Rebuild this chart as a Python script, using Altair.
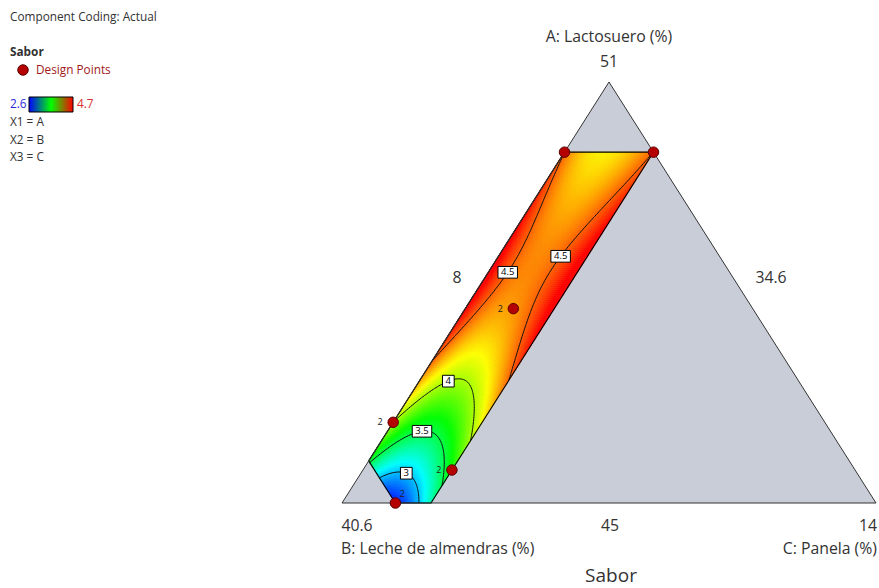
import numpy as np
import pandas as pd
import altair as alt

# ---------------- mixture definition (actual %, total = 93.6) ----------------
TOTAL = 93.6
A_LOW, B_LOW, C_LOW = 45.0, 34.6, 8.0          # simplex lows
A_MAX, B_MAX, C_MAX = 50.0, 40.0, 9.0          # constraints of the design region
SPAN = TOTAL - A_LOW - B_LOW - C_LOW           # 6.0
A_HIGH, B_HIGH, C_HIGH = A_LOW + SPAN, B_LOW + SPAN, C_LOW + SPAN   # simplex vertices

# ---------------- design points ----------------
design_A = [50.0, 50.0, 47.77, 46.15, 45.47, 45.0]
design_C = [8.0, 9.0, 8.54, 8.0, 9.0, 8.6]
design_sabor = [4.5, 4.5, 4.4, 4.0, 3.68, 2.65]
design_reps = [1, 1, 2, 2, 2, 2]

# ---------------- further Sabor readings over the region ----------------
read_A = [49.68, 49.20, 48.29, 47.77, 47.01,
          49.68, 49.32, 48.55, 47.77, 47.18, 46.74,
          46.44, 46.79, 46.80, 46.52, 46.37, 45.80,
          45.60, 45.90, 46.06, 45.97, 45.83, 45.56, 45.29,
          45.33, 45.40, 45.44, 45.29, 45.00,
          45.00, 50.00, 50.00, 50.00, 49.50, 48.90, 49.50, 48.90,
          48.48, 48.36, 49.50, 48.90, 48.48, 46.80, 46.80, 47.18]
read_C = [8.05, 8.12, 8.23, 8.17, 8.00,
          8.92, 8.82, 8.63, 8.79, 8.89, 9.00,
          8.155, 8.30, 8.45, 8.74, 8.81, 9.00,
          8.02, 8.13, 8.37, 8.58, 8.71, 8.85, 9.00,
          8.27, 8.38, 8.52, 8.68, 8.876,
          9.00, 8.50, 8.25, 8.75, 8.00, 8.00, 9.00, 9.00,
          8.00, 9.00, 8.50, 8.45, 8.43, 8.00, 9.00, 8.55]
read_sabor = [4.5, 4.5, 4.5, 4.5, 4.5,
              4.5, 4.5, 4.5, 4.5, 4.5, 4.5,
              4.0, 4.0, 4.0, 4.0, 4.0, 4.0,
              3.5, 3.5, 3.5, 3.5, 3.5, 3.5, 3.5,
              3.0, 3.0, 3.0, 3.0, 3.0,
              3.3, 4.2, 4.3, 4.3, 4.65, 4.72, 4.65, 4.72,
              4.72, 4.72, 4.25, 4.33, 4.38, 4.4, 4.52, 4.2]

contour_levels = [3.0, 3.5, 4.0, 4.5]
label_level = [4.5, 4.5, 4.0, 3.5, 3.0]
label_A = [48.29, 48.55, 46.79, 46.06, 45.44]
label_C = [8.23, 8.63, 8.29, 8.37, 8.52]

color_domain = [2.6, 4.7]

# ---------------- helpers ----------------
A_TOP = (A_MAX - A_LOW) / SPAN      # pseudo upper bound of A
C_TOP = (C_MAX - C_LOW) / SPAN      # pseudo upper bound of C
B_TOP = (B_MAX - B_LOW) / SPAN      # pseudo upper bound of B


def pseudo(A, C):
    return (np.asarray(A, float) - A_LOW) / SPAN, (np.asarray(C, float) - C_LOW) / SPAN


def to_xy(a, c):
    # B at (0,0), C at (1,0), A at (0.5,1)
    return c + a / 2.0, a


def terms(a, c):
    a = np.asarray(a, float)
    v = np.asarray(c, float) / C_TOP
    return np.stack([np.ones_like(a), a, v, a * a, a * v, v * v,
                     a ** 3, a * a * v, a * v * v, v ** 3,
                     a ** 4, a ** 3 * v, a * a * v * v, a * v ** 3, v ** 4], axis=-1)


# quartic response surface, design runs weighted more heavily than the readings
fa, fc = pseudo(design_A + read_A, design_C + read_C)
fy = np.array(design_sabor + read_sabor)
w = np.r_[np.full(len(design_A), 3.0), np.ones(len(read_A))]
coef, *_ = np.linalg.lstsq(terms(fa, fc) * w[:, None], fy * w, rcond=None)


def predict(a, c):
    return terms(a, c) @ coef


# ---------------- colour field ----------------
n_rows, n_cols = 176, 34
edges = np.linspace(0.0, A_TOP, n_rows + 1)
cells = []
for j in range(n_rows):
    a0, a1 = edges[j], edges[j + 1]
    am = 0.5 * (a0 + a1)
    c_lo = max(0.0, 1.0 - B_TOP - am)
    cs = np.linspace(c_lo, C_TOP, n_cols + 1)
    cm = 0.5 * (cs[:-1] + cs[1:])
    vals = predict(np.full_like(cm, am), cm)
    for k in range(n_cols):
        cells.append((cs[k] + am / 2, cs[k + 1] + am / 2, a0, a1, vals[k]))
field = pd.DataFrame(cells, columns=["x0", "x1", "y0", "y1", "sabor"])

# ---------------- contour lines (marching squares) ----------------
na, nc = 220, 50
ag = np.linspace(0.0, A_TOP, na)
cg = np.linspace(0.0, C_TOP, nc)
AA, CC = np.meshgrid(ag, cg, indexing="ij")
Z = predict(AA, CC)
cut = 1.0 - B_TOP

seg_rows = []
for lev in contour_levels:
    for i in range(na - 1):
        for j in range(nc - 1):
            corners = [(i, j), (i + 1, j), (i + 1, j + 1), (i, j + 1)]
            pts = []
            for e in range(4):
                p, q = corners[e], corners[(e + 1) % 4]
                z1, z2 = Z[p], Z[q]
                if (z1 - lev) * (z2 - lev) < 0:
                    t = (lev - z1) / (z2 - z1)
                    pts.append((AA[p] + t * (AA[q] - AA[p]), CC[p] + t * (CC[q] - CC[p])))
            for s in range(0, len(pts) - 1, 2):
                (pa, pc), (qa, qc) = pts[s], pts[s + 1]
                sp, sq = pa + pc - cut, qa + qc - cut
                if sp < 0 and sq < 0:
                    continue
                if sp < 0 or sq < 0:
                    t = sp / (sp - sq)
                    ma, mc = pa + t * (qa - pa), pc + t * (qc - pc)
                    if sp < 0:
                        pa, pc = ma, mc
                    else:
                        qa, qc = ma, mc
                x0, y0 = to_xy(pa, pc)
                x1, y1 = to_xy(qa, qc)
                seg_rows.append((lev, x0, y0, x1, y1))
segs = pd.DataFrame(seg_rows, columns=["level", "x0", "y0", "x1", "y1"])

# contour labels snapped onto their contour
lab_rows = []
la, lc = pseudo(label_A, label_C)
for lev, a, c in zip(label_level, la, lc):
    tx, ty = to_xy(a, c)
    s = segs[segs.level == lev]
    if s.empty:
        continue
    d = (s.x0 - tx) ** 2 + (s.y0 - ty) ** 2
    r = s.loc[d.idxmin()]
    txt = f"{lev:g}"
    lab_rows.append((r.x0, r.y0, txt, len(txt) > 1))
labels = pd.DataFrame(lab_rows, columns=["x", "y", "text", "wide"])

# ---------------- outlines ----------------
tri = pd.DataFrame({"x": [0.0, 0.5, 1.0], "y": [0.0, 1.0, 0.0], "base": [0.0, 0.0, 0.0]})
tri_outline = pd.DataFrame({"x": [0.0, 0.5, 1.0, 0.0], "y": [0.0, 1.0, 0.0, 0.0], "i": [0, 1, 2, 3]})

reg_a = [cut, A_TOP, A_TOP, 0.0, 0.0, cut]
reg_c = [0.0, 0.0, C_TOP, C_TOP, cut, 0.0]
rx, ry = to_xy(np.array(reg_a), np.array(reg_c))
region_outline = pd.DataFrame({"x": rx, "y": ry, "i": range(len(reg_a))})

# ---------------- design points ----------------
da, dc = pseudo(design_A, design_C)
dx, dy = to_xy(da, dc)
points = pd.DataFrame({"x": dx, "y": dy, "reps": design_reps,
                       "on_base": np.isclose(da, 0.0)})
points["rep_text"] = points.reps.astype(str)

# ---------------- chart ----------------
W, H = 534, 421
LEFT, TOP = 342, 82
xs = alt.Scale(domain=[0, 1], nice=False, zero=False)
ys = alt.Scale(domain=[0, 1], nice=False, zero=False)
cscale = alt.Scale(domain=[2.6, 3.125, 3.65, 4.175, 4.7],
                   range=["#0000ff", "#00ffff", "#00ff00", "#ffff00", "#ff0000"],
                   clamp=True, interpolate="rgb")


def X(f):
    return alt.X(f, type="quantitative", scale=xs, axis=None)


def Y(f):
    return alt.Y(f, type="quantitative", scale=ys, axis=None)


triangle = alt.Chart(tri).mark_area(color="#c8cdd8").encode(x=X("x"), y=Y("y"), y2="base")

heat = alt.Chart(field).mark_rect(strokeWidth=0.6).encode(
    x=X("x0"), x2="x1", y=Y("y0"), y2="y1",
    color=alt.Color("sabor:Q", scale=cscale, legend=None),
    stroke=alt.Stroke("sabor:Q", scale=cscale, legend=None),
)

contours = alt.Chart(segs).mark_rule(color="#111111", strokeWidth=1).encode(
    x=X("x0"), x2="x1", y=Y("y0"), y2="y1")

region_line = alt.Chart(region_outline).mark_line(color="#000000", strokeWidth=1.1).encode(
    x=X("x"), y=Y("y"), order="i:Q")
tri_line = alt.Chart(tri_outline).mark_line(color="#333333", strokeWidth=1).encode(
    x=X("x"), y=Y("y"), order="i:Q")

box_wide = alt.Chart(labels).transform_filter("datum.wide").mark_point(
    shape="M-1,-0.6H1V0.6H-1Z", size=380, filled=True, fill="white",
    stroke="black", strokeWidth=1, opacity=1).encode(x=X("x"), y=Y("y"))
box_narrow = alt.Chart(labels).transform_filter("!datum.wide").mark_point(
    shape="M-0.6,-0.6H0.6V0.6H-0.6Z", size=380, filled=True, fill="white",
    stroke="black", strokeWidth=1, opacity=1).encode(x=X("x"), y=Y("y"))
box_text = alt.Chart(labels).mark_text(fontSize=9.5, color="#000000").encode(
    x=X("x"), y=Y("y"), text="text:N")

pts = alt.Chart(points).mark_point(filled=True, size=110, fill="#b50000",
                                   stroke="#5a0000", strokeWidth=1, opacity=1).encode(
    x=X("x"), y=Y("y"))
rep_left = alt.Chart(points).transform_filter("datum.reps > 1 && !datum.on_base").mark_text(
    fontSize=9, dx=-13, color="#222222").encode(x=X("x"), y=Y("y"), text="rep_text:N")
rep_up = alt.Chart(points).transform_filter("datum.reps > 1 && datum.on_base").mark_text(
    fontSize=9, dx=7, dy=-9, color="#222222").encode(x=X("x"), y=Y("y"), text="rep_text:N")

one = pd.DataFrame({"k": [0]})


def note(text, px, py, size=11.8, color="#333333", weight="normal", align="left"):
    return alt.Chart(one).mark_text(fontSize=size, fontWeight=weight, align=align,
                                    baseline="middle", color=color).encode(
        x=alt.value(px - LEFT), y=alt.value(py - TOP), text=alt.value(text))


BIG = 15.8
notes = [
    note("Component Coding: Actual", 10, 17),
    note("Sabor", 10, 52, weight="bold"),
    note("Design Points", 36, 70, color="#a01818"),
    note(f"{color_domain[0]:g}", 10, 104, color="#2b2bd6"),
    note(f"{color_domain[1]:g}", 77, 104, color="#d83030"),
    note("X1 = A", 10, 122),
    note("X2 = B", 10, 140),
    note("X3 = C", 10, 157),
    note("A: Lactosuero (%)", 609, 37, size=BIG, align="center"),
    note(f"{A_HIGH:g}", 609, 62, size=BIG, align="center"),
    note(f"{C_LOW:g}", 457, 278, size=BIG, align="center"),
    note(f"{B_LOW:g}", 771, 278, size=BIG, align="center"),
    note(f"{B_HIGH:g}", 357, 526, size=BIG, align="center"),
    note(f"{A_LOW:g}", 610, 526, size=BIG, align="center"),
    note(f"{C_HIGH:g}", 868, 526, size=BIG, align="center"),
    note("B: Leche de almendras (%)", 341, 549, size=BIG),
    note("C: Panela (%)", 877, 549, size=BIG, align="right"),
    note("Sabor", 611, 576, size=19, align="center"),
]

legend_dot = alt.Chart(one).mark_point(filled=True, size=110, fill="#b50000",
                                       stroke="#5a0000", strokeWidth=1, opacity=1).encode(
    x=alt.value(23 - LEFT), y=alt.value(70 - TOP))
gradient = alt.LinearGradient(
    gradient="linear", x1=0, x2=1, y1=0, y2=0,
    stops=[alt.GradientStop(color="#0000ff", offset=0),
           alt.GradientStop(color="#00ff00", offset=0.5),
           alt.GradientStop(color="#ff0000", offset=1)])
legend_bar = alt.Chart(one).mark_rect(fill=gradient, stroke="#000000", strokeWidth=1).encode(
    x=alt.value(29 - LEFT), x2=alt.value(73 - LEFT),
    y=alt.value(97 - TOP), y2=alt.value(112 - TOP))

chart = alt.layer(
    triangle, heat, contours, region_line, tri_line,
    box_wide, box_narrow, box_text, pts, rep_left, rep_up,
    legend_dot, legend_bar, *notes,
).properties(
    width=W, height=H,
    autosize=alt.AutoSizeParams(type="none"),
    padding={"left": LEFT, "top": TOP, "right": 879 - LEFT - W, "bottom": 588 - TOP - H},
).configure(font="Open Sans", view=alt.ViewConfig(stroke=None))

chart.save("out.html", embed_options={"renderer": "svg", "actions": False})
